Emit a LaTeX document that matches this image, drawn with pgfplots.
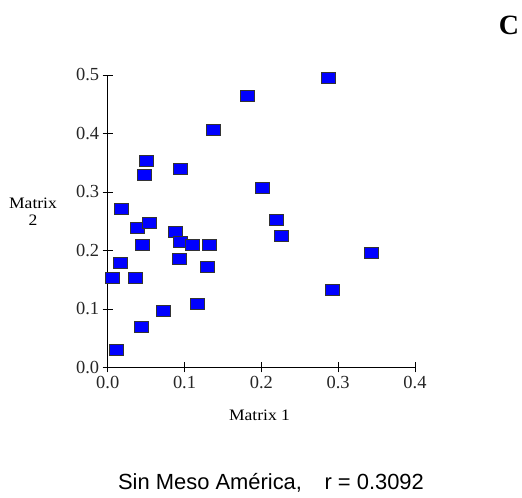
\documentclass[border=0pt]{standalone}
\usepackage{pgfplots}
\pgfplotsset{compat=1.18}
\usepackage{fontspec}
\setmainfont{Liberation Serif}
\newfontfamily\wideserif[FakeStretch=1.1]{Liberation Serif}
\newfontfamily\arialfont{Liberation Sans}
\definecolor{markblue}{RGB}{0,0,255}
\begin{document}
\begin{tikzpicture}[x=1bp,y=1bp]
\path[use as bounding box] (0,0) rectangle (522,498);
\begin{axis}[
  at={(107.7bp,130.5bp)}, anchor=south west,
  scale only axis, width=307.3bp, height=292.5bp,
  xmin=0, xmax=0.4, ymin=0, ymax=0.5,
  axis x line=bottom, axis y line=left,
  axis line style={-, black, line width=0.9bp},
  xtick={0,0.1,0.2,0.3,0.4}, xticklabels={0.0,0.1,0.2,0.3,0.4},
  ytick={0,0.1,0.2,0.3,0.4,0.5}, yticklabels={0.0,0.1,0.2,0.3,0.4,0.5},
  tick align=center, major tick length=10bp,
  tick style={black, line width=0.9bp},
  tick label style={font=\fontsize{18.5}{21}\selectfont, text=black!85},
  clip=false,
]
\addplot[only marks, mark=square*, mark size=5.5bp,
  mark options={xscale=1.27, fill=markblue, draw=black!80, line width=0.8bp}]
coordinates {
(0.1823,0.465) (0.1375,0.406) (0.0503,0.353) (0.0482,0.330) (0.095,0.340)
(0.0177,0.271) (0.0385,0.239) (0.0538,0.247) (0.088,0.231) (0.045,0.210)
(0.095,0.215) (0.110,0.210) (0.1323,0.210) (0.0169,0.178) (0.0933,0.185)
(0.1293,0.172) (0.0065,0.153) (0.036,0.153) (0.1167,0.109) (0.0724,0.097)
(0.0443,0.069) (0.0117,0.030) (0.2873,0.495) (0.2013,0.307) (0.219,0.252)
(0.226,0.225) (0.3438,0.196) (0.2925,0.133)
};
\end{axis}
\node[align=center, font=\wideserif\fontsize{16}{17}\selectfont] at (33,286) {Matrix\\2};
\node[font=\wideserif\fontsize{16}{19}\selectfont] at (259.5,82.5) {Matrix 1};
\node[font=\fontsize{28}{32}\selectfont\bfseries] at (509,473) {C};
\node[font=\arialfont\fontsize{22}{26}\selectfont] at (271,15) {Sin Meso América,\hspace{0.75em} r = 0.3092};
\end{tikzpicture}
\end{document}
